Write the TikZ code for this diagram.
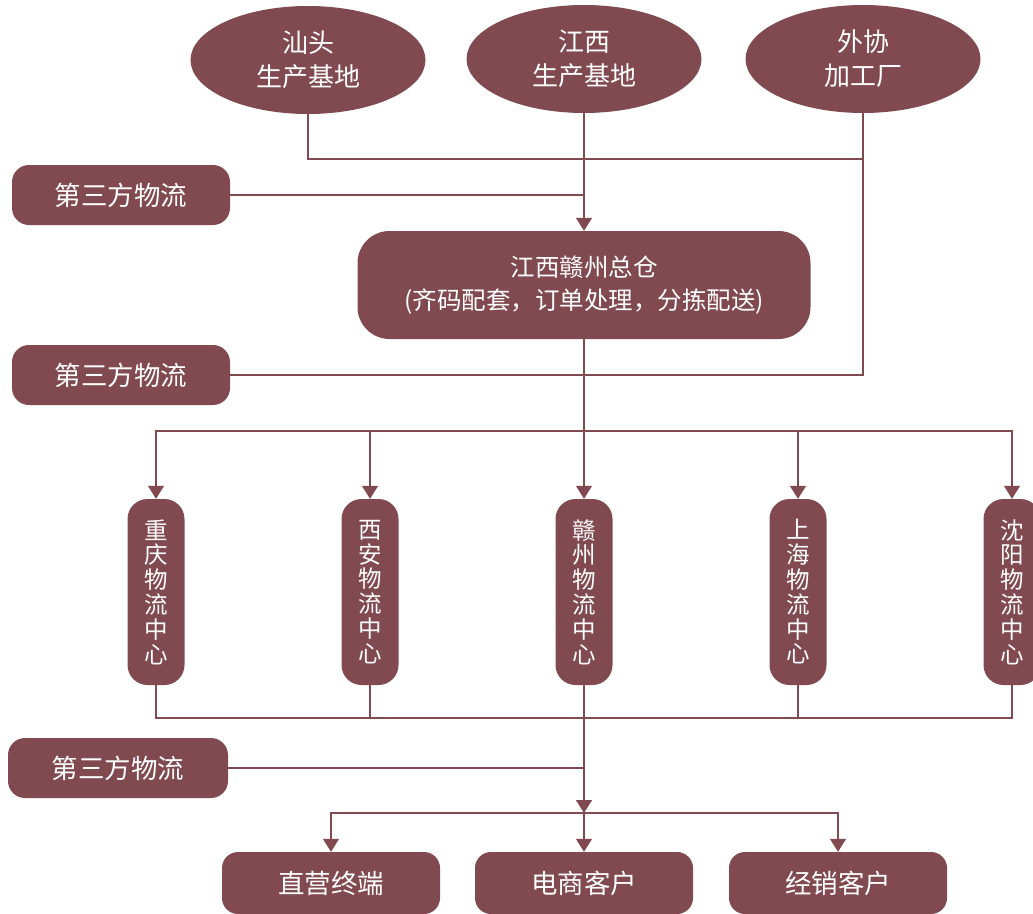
\documentclass[tikz,border=0pt]{standalone}
\usepackage{fontspec}
\setmainfont{Noto Sans CJK SC}
\usetikzlibrary{arrows.meta,shapes.geometric}
\definecolor{mar}{RGB}{129,74,81}
\begin{document}
\begin{tikzpicture}[x=1pt,y=-1pt,
  box/.style={fill=mar, draw=none, text=white, inner sep=0pt, align=center},
  ell/.style={ellipse, fill=mar, text=white, inner sep=0pt, align=center,
    minimum width=235pt, minimum height=108pt, font=\fontsize{26}{34}\selectfont},
  tpl/.style={box, rounded corners=17pt, minimum width=218pt, minimum height=60pt,
    font=\fontsize{26.5}{30}\selectfont},
  hubbox/.style={box, rounded corners=32pt, minimum width=453pt, minimum height=108pt,
    font=\fontsize{24.5}{33}\selectfont},
  vbox/.style={box, rounded corners=20pt, minimum width=57pt, minimum height=186pt,
    text width=30pt, font=\fontsize{23.5}{24.8}\selectfont},
  cbox/.style={box, rounded corners=16pt, minimum width=218pt, minimum height=62pt,
    font=\fontsize{26.5}{30}\selectfont},
  line/.style={draw=mar, line width=1.3pt},
  arr/.style={line, -{Triangle[width=16pt,length=13pt]}}
]
\useasboundingbox (0,0) rectangle (1033,913);

\node[ell] (e1) at (308,60) {汕头\\生产基地};
\node[ell] (e2) at (584,59) {江西\\生产基地};
\node[ell] (e3) at (863,59) {外协\\加工厂};

\node[tpl] (w1) at (121,195) {第三方物流};
\node[tpl] (w2) at (121,375) {第三方物流};
\node[tpl, minimum width=220pt] (w3) at (118,768) {第三方物流};

\node[hubbox] (hub) at (584,285) {江西赣州总仓\\(齐码配套，订单处理，分拣配送)};

\node[vbox] (c1) at (156,592) {重\\庆\\物\\流\\中\\心};
\node[vbox] (c2) at (370,592) {西\\安\\物\\流\\中\\心};
\node[vbox] (c3) at (584,592) {赣\\州\\物\\流\\中\\心};
\node[vbox] (c4) at (798,592) {上\\海\\物\\流\\中\\心};
\node[vbox] (c5) at (1012,592) {沈\\阳\\物\\流\\中\\心};

\node[cbox] (d1) at (331,883) {直营终端};
\node[cbox] (d2) at (584,883) {电商客户};
\node[cbox] (d3) at (838,883) {经销客户};

\coordinate (tl) at (0,159);
\coordinate (dl) at (0,431);
\coordinate (bl) at (0,718);
\coordinate (hub2) at (584,813);

% top
\draw[line] (e1.south) |- (e3.south |- tl);
\draw[line] (e3.south) |- (w2.east);
\draw[line] (w1.east) -- (w1.east -| e2.south);
\draw[arr] (e2.south) -- (hub.north);

% distribution
\draw[arr] (hub.south) -- (c3.north);
\draw[arr] (c3.north |- dl) -| (c1.north);
\draw[arr] (c3.north |- dl) -| (c2.north);
\draw[arr] (c3.north |- dl) -| (c4.north);
\draw[arr] (c3.north |- dl) -| (c5.north);

% collection
\draw[line] (c1.south) |- (c5.south |- bl) -- (c5.south);
\draw[line] (c2.south) -- (c2.south |- bl);
\draw[line] (c4.south) -- (c4.south |- bl);
\draw[arr] (c3.south) -- (hub2);
\draw[line] (w3.east) -- (w3.east -| c3.south);

% customers
\draw[arr] (hub2) -| (d1.north);
\draw[arr] (hub2) -- (d2.north);
\draw[arr] (hub2) -| (d3.north);
\end{tikzpicture}
\end{document}
